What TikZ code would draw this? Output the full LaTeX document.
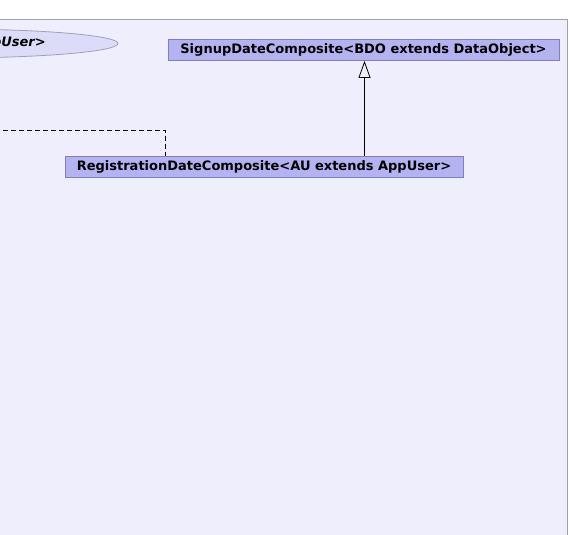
\documentclass[tikz,border=0pt]{standalone}
\usepackage{fontspec}
\setmainfont{DejaVu Sans}
\usetikzlibrary{arrows.meta,shapes.geometric}
\definecolor{panelfill}{HTML}{EEEEFD}
\definecolor{panelline}{HTML}{A0A0B4}
\definecolor{boxfill}{HTML}{B3B3F2}
\definecolor{boxline}{HTML}{8080C0}
\definecolor{ellfill}{HTML}{DCDCF8}
\definecolor{ellline}{HTML}{A0A0B8}
\tikzset{
  classbox/.style={draw=boxline, fill=boxfill, line width=0.8pt, inner sep=0pt,
    minimum height=21pt, font=\bfseries\fontsize{13}{15}\selectfont, text=black},
  inherit/.style={draw=black, line width=0.8pt, -{Triangle[open, width=12pt, length=17pt]}},
  dep/.style={draw=black, line width=0.8pt, dash pattern=on 5pt off 3pt},
}
\begin{document}
\begin{tikzpicture}[x=1pt, y=-1pt]
\useasboundingbox (0,0) rectangle (570,535);
\clip (0,0) rectangle (570,535);
\fill[white] (0,0) rectangle (570,535);
\draw[draw=panelline, fill=panelfill, line width=0.8pt] (-10,19.5) rectangle (567,545);
% ellipse (partially out of view)
\node[ellipse, draw=ellline, fill=ellfill, line width=0.8pt, minimum width=340pt, minimum height=29pt, inner sep=0pt] (ell) at (-52,43.5) {};
\node[anchor=east, font=\bfseries\itshape\fontsize{13}{15}\selectfont, inner sep=0pt] (elltext) at (46,43.5) {AppUser>};
\node[classbox, minimum width=391pt] (signup) at (363.5,50) {SignupDateComposite<BDO extends DataObject>};
\node[classbox, minimum width=398pt] (reg) at (264,167) {RegistrationDateComposite<AU extends AppUser>};
\draw[inherit] (reg.north -| 364.5,0) -- (signup.south -| 364.5,0);
\coordinate (depstart) at (-5,130);
\draw[dep] (depstart) -- (165.5,130) -- (reg.north -| 165.5,0);
\end{tikzpicture}
\end{document}
